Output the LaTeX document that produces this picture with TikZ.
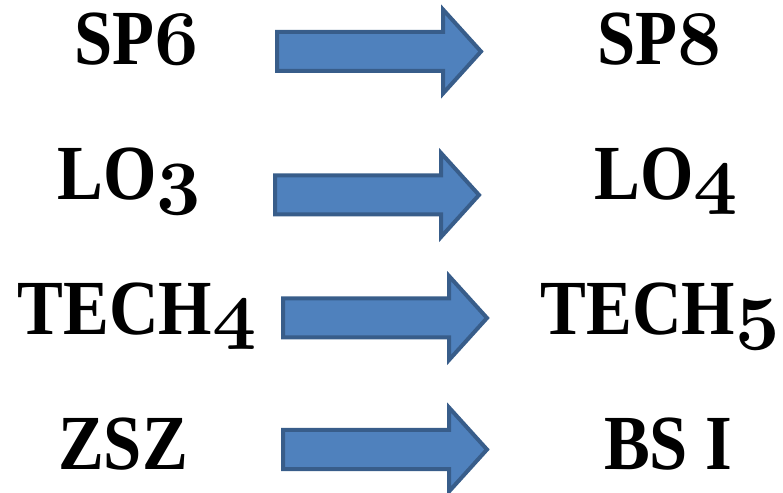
\documentclass[tikz,border=0pt]{standalone}
\usepackage{fontspec}
\usepackage{graphicx}
\setmainfont{Liberation Serif}[FakeStretch=0.88]
\usetikzlibrary{positioning}

% old style figures from the bold math italic font, blown up to label size
\newcommand{\osf}[1]{\scalebox{3.1}{\fontsize{24.88}{24.88}\usefont{OML}{cmm}{b}{it}#1}}

\definecolor{arrowblue}{HTML}{4F81BD}
\definecolor{arrowedge}{HTML}{385D8A}

\tikzset{
    label/.style={anchor=base, inner sep=0pt, font=\fontsize{78}{78}\bfseries\selectfont},
    arrowbody/.style={fill=arrowblue, draw=arrowedge, line width=4pt, line join=miter},
    pics/bigarrow/.style={code={
        \draw[arrowbody] (2,-19.5) -- (168,-19.5) -- (168,-42) -- (206,0)
            -- (168,42) -- (168,19.5) -- (2,19.5) -- cycle;
    }}
}

\begin{document}
\begin{tikzpicture}[x=1pt, y=1pt]
            \useasboundingbox (0,0) rectangle (783,492);
            % left column
            \node[label] (sp6) at (137, 427) {SP\osf{6}};
            \node[label] (lo3) at (129, 292) {LO\osf{3}};
            \node[label] (tech4) at (137, 157) {TECH\osf{4}};
            \node[label] (zsz) at (123, 23) {ZSZ};
            % right column
            \node[label] (sp8) at (660, 427) {SP\osf{8}};
            \node[label] (lo4) at (666, 292) {LO\osf{4}};
            \node[label] (tech5) at (660, 157) {TECH\osf{5}};
            \node[label] (bsi) at (668, 23) {BS I};
            % arrows
            \pic at (275, 440.5) {bigarrow};
            \pic at (273, 297) {bigarrow};
            \pic at (281, 174) {bigarrow};
            \pic at (281, 42.5) {bigarrow};
        \end{tikzpicture}
\end{document}
